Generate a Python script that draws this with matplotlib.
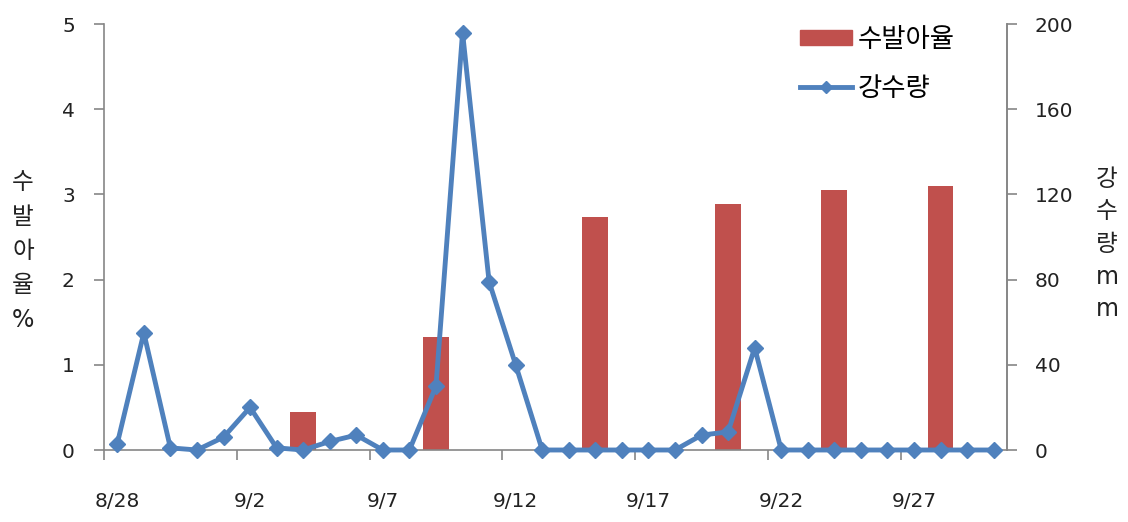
import matplotlib
matplotlib.use("Agg")
import matplotlib.pyplot as plt
from matplotlib.lines import Line2D
from matplotlib.patches import Patch
import numpy as np

plt.rcParams['font.family'] = ['DejaVu Sans', 'Noto Sans CJK KR']

dates = ['8/28', '8/29', '8/30', '8/31', '9/1', '9/2', '9/3', '9/4', '9/5', '9/6',
         '9/7', '9/8', '9/9', '9/10', '9/11', '9/12', '9/13', '9/14', '9/15', '9/16',
         '9/17', '9/18', '9/19', '9/20', '9/21', '9/22', '9/23', '9/24', '9/25', '9/26',
         '9/27', '9/28', '9/29', '9/30']
rain_mm = [3, 55, 1, 0, 6, 20, 1, 0, 4, 7,
           0, 0, 30, 196, 79, 40, 0, 0, 0, 0,
           0, 0, 7, 8.5, 48, 0, 0, 0, 0, 0,
           0, 0, 0, 0]
sprout_dates = ['9/4', '9/9', '9/15', '9/20', '9/24', '9/28']
sprout_pct = [0.45, 1.33, 2.74, 2.89, 3.05, 3.10]
tick_labels = ['8/28', '9/2', '9/7', '9/12', '9/17', '9/22', '9/27']

RED = '#C0504D'
BLUE = '#4F81BD'
GRAY = '#868686'
TXT = '#222222'

W, H = 1128, 522
fig = plt.figure(figsize=(W / 100, H / 100), dpi=100)
ax = fig.add_axes([104 / W, 1 - 450 / H, (1007 - 104) / W, (450 - 24) / H])
ax2 = ax.twinx()

x = np.arange(len(dates))
bar_x = [dates.index(d) for d in sprout_dates]
ax.bar(bar_x, sprout_pct, width=0.97, color=RED, zorder=2)
ax2.plot(x, rain_mm, color=BLUE, lw=3.5, marker='D', markersize=8.5,
         markeredgecolor=BLUE, markerfacecolor=BLUE, zorder=3, clip_on=False)

ax.set_xlim(-0.5, len(dates) - 0.5)
ax.set_ylim(0, 5)
ax2.set_ylim(0, 200)
ax.set_yticks(range(0, 6))
ax2.set_yticks(range(0, 201, 40))

# category boundaries as major ticks, labels centred on categories
tick_idx = [dates.index(t) for t in tick_labels]
ax.set_xticks([i - 0.5 for i in tick_idx])
ax.set_xticklabels([])
ax.set_xticks(tick_idx, minor=True)
ax.set_xticklabels(tick_labels, minor=True)
ax.tick_params(axis='x', which='major', length=7, width=1.2, color=GRAY, direction='out')
ax.tick_params(axis='x', which='minor', length=0, pad=30, labelsize=14.5, labelcolor=TXT)
ax.tick_params(axis='y', length=7, width=1.2, color=GRAY, direction='out', pad=14,
               labelsize=14.5, labelcolor=TXT)
ax2.tick_params(axis='y', length=7, width=1.2, color=GRAY, direction='out', pad=13,
                labelsize=14.5, labelcolor=TXT)

for a in (ax, ax2):
    a.spines['top'].set_visible(False)
    for s in ('left', 'right', 'bottom'):
        a.spines[s].set_color(GRAY)
        a.spines[s].set_linewidth(1.2)
ax2.spines['left'].set_visible(False)
ax2.spines['bottom'].set_visible(False)

fig.text(23 / W, 1 - 251 / H, '수\n발\n아\n율\n%', ha='center', va='center',
         fontsize=17, linespacing=1.55, color=TXT)
fig.text(1107 / W, 1 - 244 / H, '강\n수\n량\nm\nm', ha='center', va='center',
         fontsize=17, linespacing=1.45, color=TXT)

handles = [Patch(facecolor=RED, edgecolor=RED),
           Line2D([0], [0], color=BLUE, lw=3.5, marker='D', markersize=6)]
fig.legend(handles, ['수발아율', '강수량'], loc='upper left',
           bbox_to_anchor=(800 / W, 1 - 27 / H), frameon=False, fontsize=19,
           handlelength=1.97, handleheight=0.5, handletextpad=0.2, labelspacing=0.86,
           borderaxespad=0, borderpad=0)

fig.savefig('out.png', dpi=100)
